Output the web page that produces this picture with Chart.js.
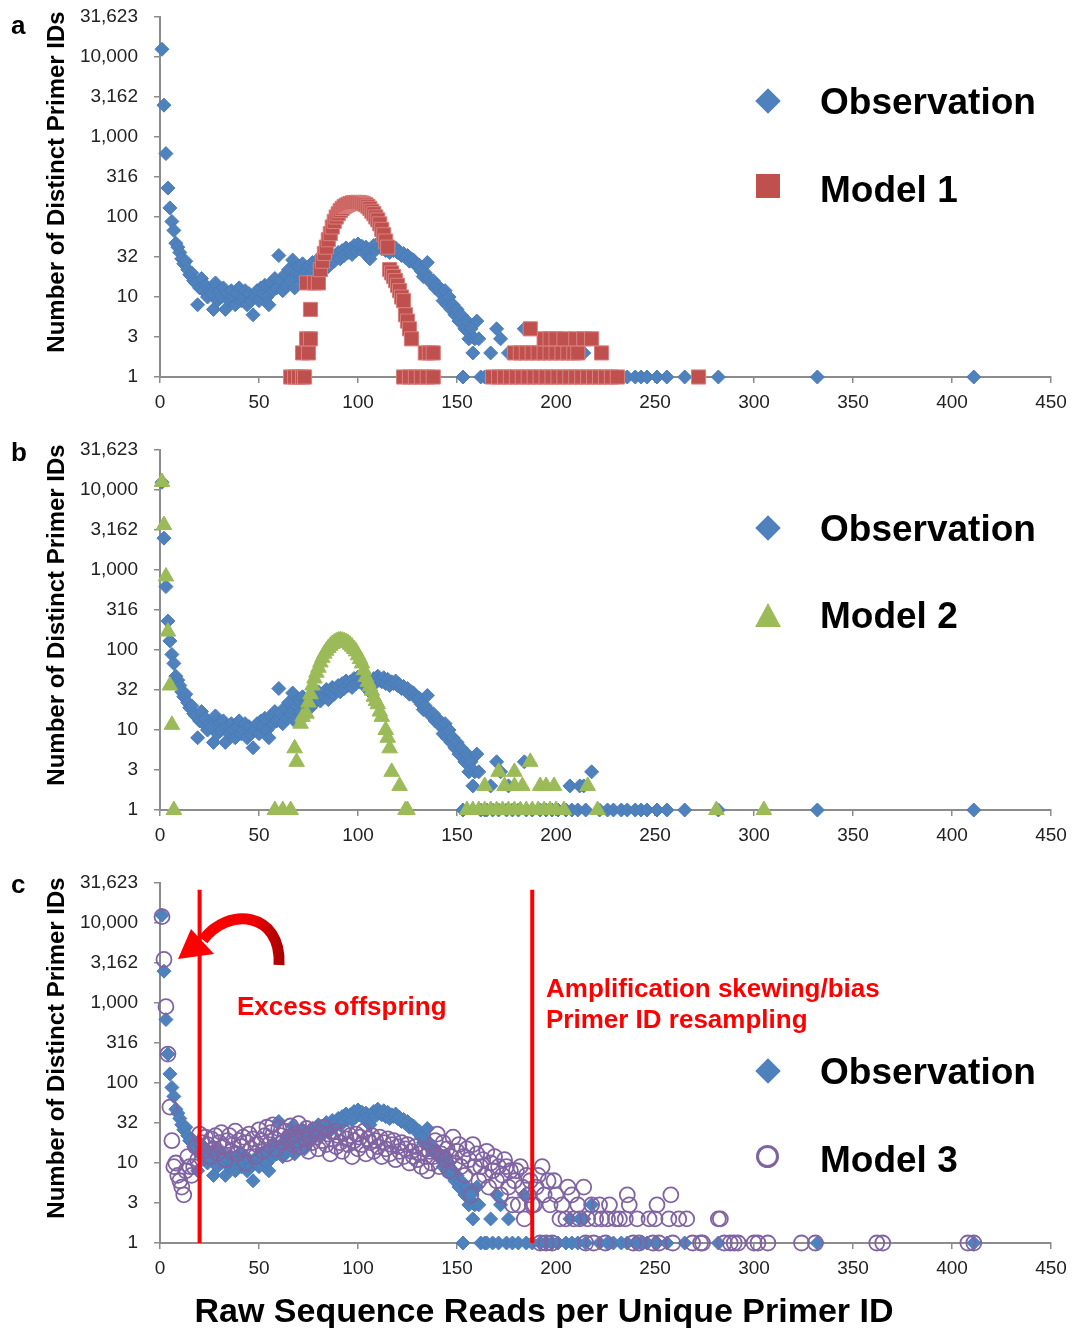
<!DOCTYPE html>
<html>
<head>
<meta charset="utf-8">
<script src="https://cdn.jsdelivr.net/npm/chart.js@4.4.1/dist/chart.umd.min.js"></script>
<style>
  body { margin: 0; background: #fff; width: 1072px; height: 1328px; position: relative; overflow: hidden;
         font-family: "Liberation Sans", Arial, sans-serif; }
  canvas { position: absolute; left: 0; }
  .t { position: absolute; white-space: nowrap; font-weight: bold; line-height: 1; color: #000; }
  .ytitle { width: 400px; text-align: center; font-size: 24px; transform: rotate(-90deg); }
  .leg { font-size: 37px; }
  .red { color: #ff0000; font-size: 26px; }
  .mk { position: absolute; box-sizing: border-box; }
</style>
</head>
<body>
<canvas id="pa" width="1072" height="433" style="top:0"></canvas>
<canvas id="pb" width="1072" height="433" style="top:433px"></canvas>
<canvas id="pc" width="1072" height="433" style="top:866px"></canvas>

<!-- panel labels and axis titles -->
<div class="t" style="left:11px;top:12px;font-size:26px">a</div>
<div class="t" style="left:11px;top:439px;font-size:26px">b</div>
<div class="t" style="left:11px;top:871px;font-size:26px">c</div>
<div class="t ytitle" style="left:-144px;top:170px">Number of Distinct Primer IDs</div>
<div class="t ytitle" style="left:-144px;top:603px">Number of Distinct Primer IDs</div>
<div class="t ytitle" style="left:-144px;top:1036px">Number of Distinct Primer IDs</div>
<div class="t" style="left:0;width:1088px;text-align:center;top:1293px;font-size:34px">Raw Sequence Reads per Unique Primer ID</div>

<!-- legends -->
<div class="mk" style="left:759px;top:92px;width:18px;height:18px;background:#4f81bd;transform:rotate(45deg)"></div>
<div class="t leg" style="left:820px;top:83px">Observation</div>
<div class="mk" style="left:756px;top:174px;width:24px;height:24px;background:#c0504d"></div>
<div class="t leg" style="left:820px;top:171px">Model 1</div>

<div class="mk" style="left:759px;top:519px;width:18px;height:18px;background:#4f81bd;transform:rotate(45deg)"></div>
<div class="t leg" style="left:820px;top:510px">Observation</div>
<div class="mk" style="left:755px;top:603px;width:0;height:0;border-left:13px solid transparent;border-right:13px solid transparent;border-bottom:24px solid #9bbb59"></div>
<div class="t leg" style="left:820px;top:597px">Model 2</div>

<div class="mk" style="left:759px;top:1062px;width:18px;height:18px;background:#4f81bd;transform:rotate(45deg)"></div>
<div class="t leg" style="left:820px;top:1053px">Observation</div>
<div class="mk" style="left:756px;top:1145px;width:23px;height:23px;border:3px solid #8064a2;border-radius:50%"></div>
<div class="t leg" style="left:820px;top:1141px">Model 3</div>

<!-- annotations panel c -->
<div class="t red" style="left:237px;top:993px">Excess offspring</div>
<div class="t red" style="left:546px;top:975px">Amplification skewing/bias</div>
<div class="t red" style="left:546px;top:1006px">Primer ID resampling</div>

<script>
// axis ticks
const xTicks = [0, 50, 100, 150, 200, 250, 300, 350, 400, 450];
const yTickValues = [1, 3.1623, 10, 31.623, 100, 316.23, 1000, 3162.3, 10000, 31623];
const yTickLabels = ['1', '3', '10', '32', '100', '316', '1,000', '3,162', '10,000', '31,623'];

// [reads per primer ID, number of primer IDs]
const observation = [
  [1,12500],[2,2500],[3,620],[4,230],[5,130],[6,88],[7,68],[8,47],[9,42],[10,36],
  [11,30],[12,26],[13,28],[14,22],[15,19],[16,20],[17,16],[18,15],[19,8],[20,13],
  [21,17],[22,12],[23,14],[24,10],[25,12],[26,11],[27,7],[28,15],[29,9],[30,12],
  [31,10],[32,13],[33,7],[34,11],[35,9],[36,12],[37,10],[38,8],[39,11],[40,13],
  [41,9],[42,10],[43,12],[44,8],[45,11],[46,9],[47,6],[48,10],[49,12],[50,9],
  [51,13],[52,11],[53,14],[54,10],[55,8],[56,15],[57,12],[58,17],[59,13],[60,33],
  [61,16],[62,12],[63,19],[64,14],[65,22],[66,16],[67,29],[68,13],[69,20],[70,24],
  [71,17],[72,26],[73,15],[74,21],[75,24],[76,19],[77,27],[78,22],[79,25],[80,30],
  [81,23],[82,28],[83,26],[84,32],[85,24],[86,30],[87,34],[88,28],[89,33],[90,36],
  [91,30],[92,38],[93,33],[94,41],[95,36],[96,40],[97,34],[98,44],[99,38],[100,46],
  [101,40],[102,43],[103,36],[104,42],[105,38],[106,30],[107,41],[108,44],[109,39],[110,47],
  [111,42],[112,40],[113,45],[114,38],[115,43],[116,36],[117,40],[118,38],[119,41],[120,36],
  [121,37],[122,33],[123,35],[124,31],[125,33],[126,28],[127,30],[128,29],[129,26],[130,24],
  [131,25],[132,21],[133,18],[134,20],[135,27],[136,17],[137,15],[138,16],[139,13],[140,14],
  [141,12],[142,11],[143,9],[144,12],[145,8],[146,10],[147,7],[148,8],[149,6],[150,7],
  [151,5],[152,6],[153,1],[154,4],[155,5],[156,3],[157,4],[158,2],[159,3],[160,5],
  [161,3],[162,1],[164,1],[165,1],[167,2],[168,1],[170,4],[171,1],[172,3],[175,1],
  [176,2],[178,1],[181,1],[184,4],[185,1],[188,1],[192,1],[195,1],[198,1],[201,1],
  [205,1],[207,2],[208,1],[211,1],[212,2],[214,2],[215,1],[218,3],[222,1],[226,1],
  [229,1],[233,1],[236,1],[240,1],[243,1],[246,1],[251,1],[256,1],[265,1],[282,1],
  [332,1],[411,1]
];

const model1 = [
  [66,1],[68,1],[70,1],[72,1],[73,1],[72,2],[75,2],[74,3],[76,3],[76,7],
  [74,15],[78,15],[80,15],[81,22],[82,28],[83,35],[84,42],[85,52],[86,62],[87,75],
  [88,88],[89,100],[90,110],[91,120],[92,128],[93,135],[94,140],[95,144],[96,147],[97,150],
  [98,151],[99,152],[100,152],[101,151],[102,149],[103,146],[104,142],[105,136],[106,128],[107,118],
  [108,110],[109,100],[110,92],[111,82],[112,70],[113,60],[114,50],[115,42],[116,22],[117,20],
  [118,18],[119,16],[120,14],[121,12],[122,10],[123,9],[124,6],[125,5],[126,4],[127,3],
  [134,2],[136,2],[138,2],[123,1],[126,1],[129,1],[132,1],[135,1],[138,1],
  [168,1],[171,1],[174,1],[177,1],[180,1],[183,1],[186,1],[189,1],[192,1],[195,1],
  [198,1],[201,1],[204,1],[207,1],[210,1],[213,1],[216,1],[219,1],[222,1],[225,1],
  [228,1],[231,1],[272,1],
  [179,2],[182,2],[185,2],[188,2],[191,2],[194,2],[197,2],[200,2],[203,2],[206,2],
  [209,2],[211,2],[223,2],
  [194,3],[197,3],[200,3],[204,3],[210,3],[214,3],[218,3],[187,4]
];

const model2 = [
  [1,12600],[2,3650],[3,830],[4,170],[5,36],[6,11.6],[7,1],[58,1],[62,1],[66,1],
  [68,5.9],[69,4],[71,12],[72,14.6],[74,16],[75,22],[76,28],[77,36],[78,44],[79,52],
  [80,60],[81,70],[82,80],[83,90],[84,98],[85,106],[86,113],[87,119],[88,124],[89,128],
  [90,131],[91,132],[92,131],[93,129],[94,126],[95,122],[96,116],[97,110],[98,103],[99,96],
  [100,86],[101,77],[102,68],[103,56],[104,46],[105,40],[106,35],[107,31],[108,26],[109,23],
  [110,21],[111,17],[112,14.6],[114,10],[115,8],[116,5.9],[117,3],[121,2],[124,1],[125,1],
  [155,1],[158,1],[161,1],[164,1],[167,1],[170,1],[173,1],[176,1],[179,1],[182,1],
  [185,1],[188,1],[191,1],[194,1],[197,1],[200,1],[204,1],[221,1],[281,1],[305,1],
  [164,2],[174,2],[179,2],[183,2],[192,2],[195,2],[199,2],[216,2],
  [171,3],[179,3],[187,4]
];

const model3 = [
  [1,12000],[2,3500],[3,900],[4,230],[5,50],[6,19],[7,9],[8,10],[9,7],[10,6],
  [11,5],[12,4],[13,8],[14,12],[15,9],[16,7],[17,9],[18,16],[19,11],[20,23],
  [21,18],[22,14],[23,21],[24,17],[25,12],[26,20],[27,15],[28,22],[29,13],[30,18],
  [31,24],[32,16],[33,11],[34,19],[35,22],[36,14],[37,17],[38,25],[39,13],[40,19],
  [41,16],[42,21],[43,10],[44,18],[45,23],[46,15],[47,20],[48,12],[49,17],[50,26],
  [51,19],[52,14],[53,22],[54,28],[55,17],[56,24],[57,30],[58,20],[59,15],[60,27],
  [61,22],[62,18],[63,25],[64,13],[65,21],[66,29],[67,17],[68,23],[69,19],[70,31],
  [71,16],[72,24],[73,20],[74,27],[75,14],[76,22],[77,18],[78,26],[79,21],[80,15],
  [81,24],[82,19],[83,28],[84,17],[85,23],[86,13],[87,20],[88,25],[89,16],[90,22],
  [91,18],[92,14],[93,24],[94,20],[95,17],[96,22],[97,12],[98,19],[99,23],[100,15],
  [101,21],[102,17],[103,25],[104,13],[105,20],[106,18],[107,22],[108,14],[109,19],[110,16],
  [111,21],[112,12],[113,18],[114,15],[115,20],[116,13],[117,17],[118,19],[119,11],[120,16],
  [121,14],[122,18],[123,12],[124,15],[125,17],[126,10],[127,14],[128,12],[129,16],[130,11],
  [131,13],[132,9],[133,15],[134,12],[135,8],[136,14],[137,10],[138,12],[139,19],[140,23],
  [141,9],[142,13],[143,18],[144,11],[145,15],[146,8],[147,12],[148,21],[149,10],[150,14],
  [151,17],[152,9],[153,12],[154,7],[155,15],[156,11],[157,4],[158,17],[159,9],[160,13],
  [161,6],[162,9],[163,11],[164,7],[165,14],[166,5],[167,10],[168,8],[169,12],[170,6],
  [171,9],[172,4],[173,7],[174,11],[175,9],[176,5],[177,8],[178,3],[179,6],[180,8],
  [181,3],[182,9],[183,5],[184,2],[185,7],[186,4],[187,6],[188,3],[189,3],[190,5],
  [191,7],[192,1],[193,9],[194,4],[195,1],[196,6],[197,3],[198,1],[199,6],[200,4],
  [202,2],[203,3],[205,2],[206,5],[208,4],[209,2],[211,3],[212,2],[214,5],[215,1],
  [216,2],[218,3],[219,1],[220,2],[222,3],[223,2],[225,1],[226,2],[227,3],[230,2],
  [232,2],[235,2],[236,4],[237,3],[239,1],[241,2],[242,1],[247,2],[249,1],[250,2],
  [251,3],[252,1],[257,2],[258,4],[259,1],[262,2],[266,2],[269,1],[273,1],[274,1],
  [282,2],[283,2],[285,1],[288,1],[290,1],[292,1],[300,1],[302,1],[307,1],[324,1],
  [331,1],[362,1],[365,1],[408,1],[411,1]
];

// vertical marker lines in panel c (reads per primer ID)
const cutoffX = [20, 188];
const cutoffTop = 26000;

const FONT = '"Liberation Sans", Arial, sans-serif';
const pts = arr => arr.map(([x, y]) => ({ x, y }));

const obsSet = () => ({
    label: 'Observation', data: pts(observation), pointStyle: 'rectRot', pointRadius: 7,
    backgroundColor: '#4f81bd', borderColor: '#4a7cb8', borderWidth: 1, order: 3, clip: false
});

function scales() {
    return {
        x: {
            type: 'linear', min: 0, max: 450,
            afterBuildTicks: s => { s.ticks = xTicks.map(v => ({ value: v })); },
            afterFit: s => { s.height = 56; s.paddingLeft = 0; s.paddingRight = 0; },
            ticks: { color: '#222', font: { size: 19, family: FONT }, padding: 8, maxRotation: 0 },
            grid: { drawOnChartArea: false, drawTicks: true, tickLength: 6, color: '#8c8c8c', lineWidth: 1.5 },
            border: { color: '#8c8c8c', width: 2 }
        },
        y: {
            type: 'logarithmic', min: 1, max: 31623,
            afterBuildTicks: s => { s.ticks = yTickValues.map(v => ({ value: v })); },
            afterFit: s => { s.width = 160; s.paddingTop = 0; s.paddingBottom = 0; },
            ticks: { color: '#222', font: { size: 19, family: FONT }, padding: 16,
                     callback: (v, i) => yTickLabels[i] },
            grid: { drawOnChartArea: false, drawTicks: true, tickLength: 6, color: '#8c8c8c', lineWidth: 1.5 },
            border: { color: '#8c8c8c', width: 2 }
        }
    };
}

function makeChart(id, datasets, plugins) {
    return new Chart(document.getElementById(id), {
        type: 'scatter',
        data: { datasets },
        options: {
            responsive: false, animation: false, events: [],
            layout: { padding: { top: 17, right: 21, left: 0, bottom: 0 } },
            plugins: { legend: { display: false }, tooltip: { enabled: false } },
            scales: scales()
        },
        plugins: plugins || []
    });
}

makeChart('pa', [
    { label: 'Model 1', data: pts(model1), pointStyle: 'rect', pointRadius: 10,
      backgroundColor: '#c0504d', borderColor: '#d9807d', borderWidth: 1, order: 1, clip: false },
    obsSet()
]);

makeChart('pb', [
    { label: 'Model 2', data: pts(model2), pointStyle: 'triangle', pointRadius: 9,
      backgroundColor: '#9bbb59', borderColor: '#9bbb59', borderWidth: 1, order: 1, clip: false },
    obsSet()
]);

// curved arrow next to the first cutoff line
const arrowPlugin = {
    id: 'arrow',
    afterDatasetsDraw(chart) {
        const ctx = chart.ctx;
        ctx.save();
        const g = ctx.createLinearGradient(180, 0, 285, 0);
        g.addColorStop(0, '#ff0000');
        g.addColorStop(0.7, '#f00000');
        g.addColorStop(1, '#a00000');
        ctx.strokeStyle = g;
        ctx.lineWidth = 11;
        ctx.beginPath();
        ctx.moveTo(279, 99);
        ctx.bezierCurveTo(282, 46, 228, 40, 203, 74);
        ctx.stroke();
        ctx.fillStyle = '#ff0000';
        ctx.beginPath();
        ctx.moveTo(178, 93);
        ctx.lineTo(191, 63);
        ctx.lineTo(214, 88);
        ctx.closePath();
        ctx.fill();
        ctx.restore();
    }
};

makeChart('pc', [
    ...cutoffX.map(x => ({
        type: 'line', data: [{ x, y: 1 }, { x, y: cutoffTop }], showLine: true,
        borderColor: '#ff0000', borderWidth: 4, pointRadius: 0, order: 0, clip: false
    })),
    { label: 'Model 3', data: pts(model3), pointStyle: 'circle', pointRadius: 7.5,
      backgroundColor: 'rgba(0,0,0,0)', borderColor: '#8064a2', borderWidth: 1.8, order: 1, clip: false },
    obsSet()
], [arrowPlugin]);
</script>
</body>
</html>
